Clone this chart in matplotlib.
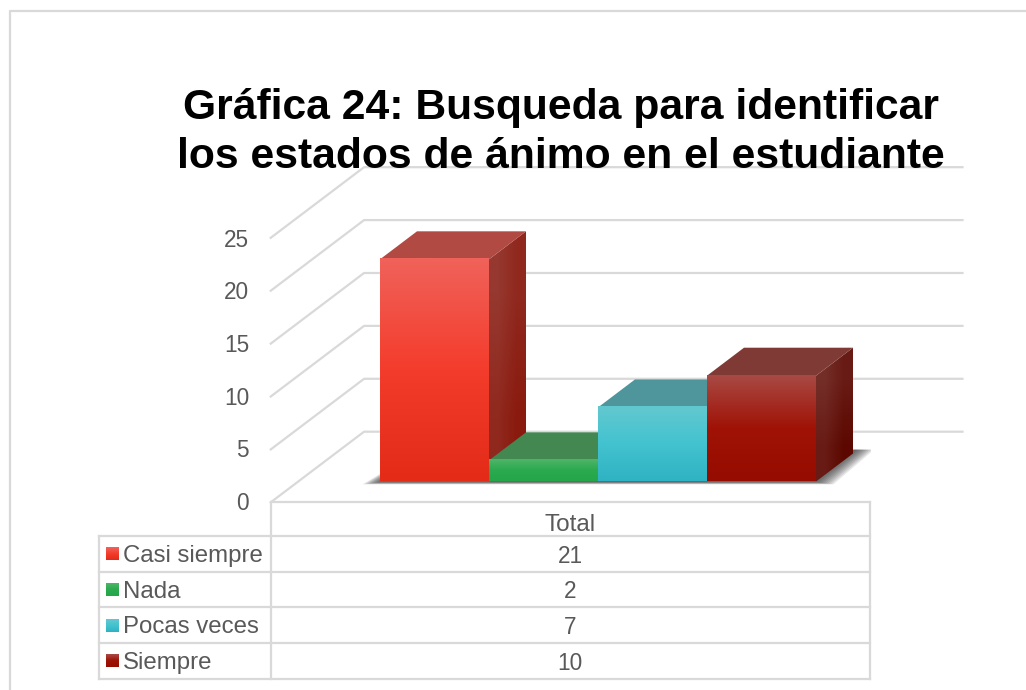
import numpy as np
import matplotlib
matplotlib.use('Agg')
import matplotlib.pyplot as plt
from matplotlib.colors import LinearSegmentedColormap, to_rgb
from matplotlib.patches import Polygon

plt.rcParams['font.family'] = ['Liberation Sans', 'DejaVu Sans']

# Data
title = 'Gráfica 24: Busqueda para identificar\nlos estados de ánimo en el estudiante'
categories = ['Casi siempre', 'Nada', 'Pocas veces', 'Siempre']
values = [21, 2, 7, 10]
column_label = 'Total'
y_ticks = [0, 5, 10, 15, 20, 25]

# Colours: front gradient (top, middle, bottom), roof, side (top left, bottom right)
front_colors = [['#F0625A', '#F43C2C', '#E32B18'],
                ['#4FB568', '#2BAA50', '#25A64A'],
                ['#62C8D0', '#43C3CF', '#2FB2C3'],
                ['#A84A44', '#A01206', '#960C00']]
roof_colors = ['#B04A42', '#438851', '#4E959C', '#803A36']
side_colors = [['#96382F', '#8A1A0E'], ['#3A7D49', '#1E7A38'],
               ['#3F8A92', '#1F7F8C'], ['#742E28', '#5C0800']]

GRID = '#D9D9D9'
TEXT = '#595959'
W, H = 1026, 690

# pixel sizes of the fake 3D box
PX_X0, PX_UNIT_X = 434.5, 109.0   # centre of first bar, px per category
PX_Y0, PX_UNIT_Y = 481.5, 10.58   # bar base, px per value
DEPTH_X, DEPTH_Y = 37.0, 28.0     # px shift for one bar depth
X_LEFT, X_RIGHT = -1.25, 4.24
D_FRONT, D_BACK = -0.743, 1.779

fig = plt.figure(figsize=(W / 100, H / 100), dpi=100)

# axes for the bars, in category / value units
x0 = PX_X0 - 2 * PX_UNIT_X
ax = fig.add_axes([x0 / W, (H - PX_Y0 - 10 * PX_UNIT_Y) / H, 6 * PX_UNIT_X / W, 50 * PX_UNIT_Y / H])
ax.axis('off')


def proj(x, y, d):
    # value space -> axes coordinates with a depth shift
    return (x + d * DEPTH_X / PX_UNIT_X, y + d * DEPTH_Y / PX_UNIT_Y)


# walls
for t in y_ticks:
    a = proj(X_LEFT, t, D_FRONT)
    b = proj(X_LEFT, t, D_BACK)
    c = proj(X_RIGHT, t, D_BACK)
    ax.plot([a[0], b[0], c[0]], [a[1], b[1], c[1]], color=GRID, lw=1.6, zorder=1, clip_on=False)

# soft shadow under the bars, stacked thin layers fading outwards
for g in np.linspace(1, 0, 10):
    pad_x = g * 0.16
    low = -0.05 - g * 0.22
    pts = [proj(-0.5 - pad_x, low, 0), proj(3.5 + pad_x, low, 0),
           proj(3.5 + pad_x, 0.1, 1.1), proj(-0.5, 0.1, 1.1)]
    ax.add_patch(Polygon(pts, closed=True, fc='#202020', ec='none', alpha=0.1, zorder=2))

# bars, left to right so each one covers the side of the last
for i, (v, fc, rc, sc) in enumerate(zip(values, front_colors, roof_colors, side_colors)):
    z = 3 + i
    l, r = i - 0.5, i + 0.5
    # side
    side = [proj(r, 0, 0), proj(r, 0, 1), proj(r, v, 1), proj(r, v, 0)]
    patch = Polygon(side, closed=True, fc='none', ec='none', zorder=z)
    ax.add_patch(patch)
    tl, br = np.array(to_rgb(sc[0])), np.array(to_rgb(sc[1]))
    grad = np.array([[tl, (tl + br) / 2], [(tl + br) / 2, br]])
    xs = [p[0] for p in side]
    ys = [p[1] for p in side]
    im = ax.imshow(grad, extent=(min(xs), max(xs), min(ys), max(ys)), origin='upper', aspect='auto',
                   interpolation='bilinear', zorder=z)
    im.set_clip_path(patch)
    # roof
    roof = [proj(l, v, 0), proj(r, v, 0), proj(r, v, 1), proj(l, v, 1)]
    ax.add_patch(Polygon(roof, closed=True, fc=rc, ec='none', zorder=z))
    # front
    cmap = LinearSegmentedColormap.from_list('f%d' % i, [(0, fc[0]), (0.5, fc[1]), (1, fc[2])])
    ax.imshow(np.linspace(0, 1, 200).reshape(-1, 1), extent=(l, r, 0, v), origin='upper', cmap=cmap,
              aspect='auto', zorder=z + 0.5)

ax.set_xlim(-2, 4)
ax.set_ylim(-10, 40)

# overlay in pixels for frame, table and text
over = fig.add_axes([0, 0, 1, 1], zorder=10)
over.axis('off')
over.patch.set_alpha(0)

# chart frame, only top and left are inside the picture
over.plot([9.5, 9.5, W], [H, 10.5, 10.5], color=GRID, lw=1.6)

over.text(561, 132.5, title, ha='center', va='center', fontsize=30.7, fontweight='bold',
          color='black', linespacing=1.31)

# y labels
for t in y_ticks:
    py = 502.3 - t * 10.52
    over.text(249, py + 1, str(t), ha='right', va='center', fontsize=16.3, color=TEXT)

# table
row_y = [502, 536, 571.7, 607.3, 643, 679]
over.plot([270.5, 270.5], [row_y[0], row_y[-1]], color=GRID, lw=1.6)
over.plot([869.5, 869.5], [row_y[0], row_y[-1]], color=GRID, lw=1.6)
over.plot([98.5, 98.5], [row_y[1], row_y[-1]], color=GRID, lw=1.6)
over.plot([270.5, 869.5], [row_y[0], row_y[0]], color=GRID, lw=1.6)
for y in row_y[1:]:
    over.plot([98.5, 869.5], [y, y], color=GRID, lw=1.6)

over.text(570, 525, column_label, ha='center', va='center', fontsize=17.5, color=TEXT)
for i, (name, v) in enumerate(zip(categories, values)):
    top, bot = row_y[i + 1], row_y[i + 2]
    mid = (top + bot) / 2
    cmap = LinearSegmentedColormap.from_list('s%d' % i, front_colors[i])
    over.imshow(np.linspace(0, 1, 30).reshape(-1, 1), extent=(106, 119, mid + 6.5, mid - 6.5),
                origin='upper', cmap=cmap, aspect='auto', zorder=3)
    over.text(123, mid + 2.2, name, ha='left', va='center', fontsize=17.3, color=TEXT)
    over.text(570, mid + 2.2, str(v), ha='center', va='center', fontsize=16.3, color=TEXT)

over.set_xlim(0, W)
over.set_ylim(H, 0)

fig.savefig('out.png', dpi=100)
